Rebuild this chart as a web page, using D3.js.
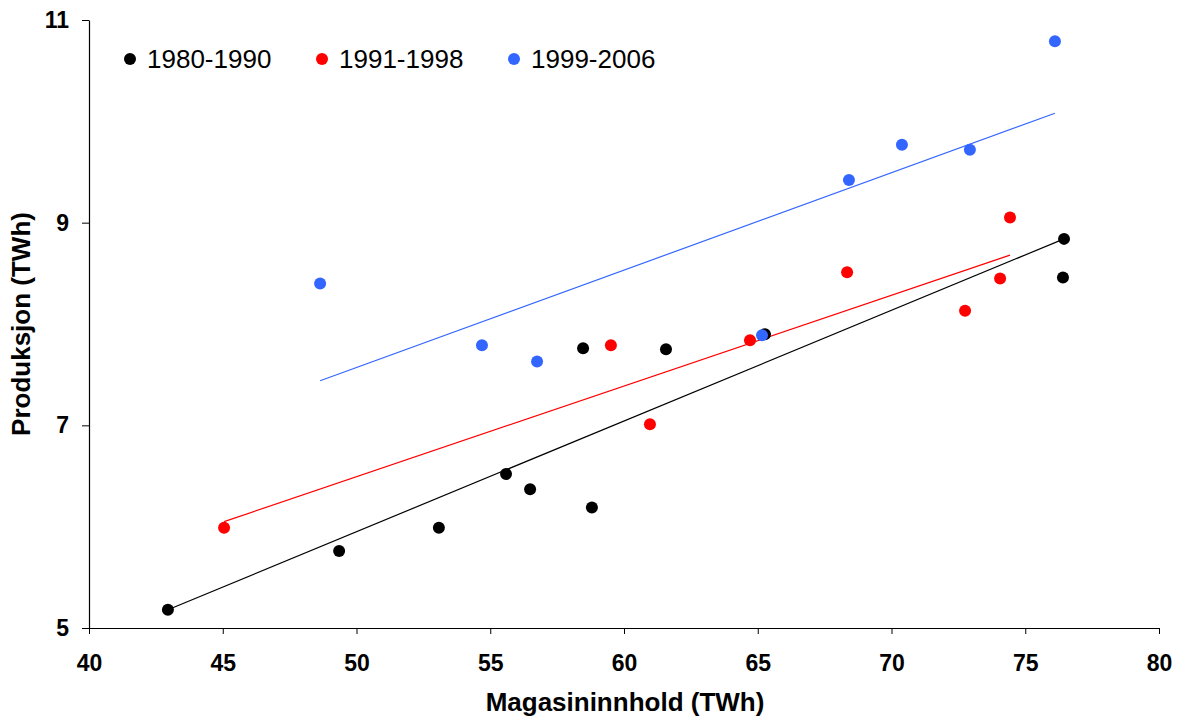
<!DOCTYPE html>
<html><head><meta charset="utf-8">
<script src="https://cdn.jsdelivr.net/npm/d3@7"></script>
<style>body{margin:0;background:#fff}svg{display:block}text{font-family:"Liberation Sans",Arial,sans-serif}</style>
</head><body>
<svg id="c" width="1180" height="718"></svg>
<script>
const seriesNames = ["1980-1990","1991-1998","1999-2006"];
const seriesColors = ["#000000","#ff0000","#3366ff"];
const x1980 = [42.95,49.35,53.08,55.59,56.49,58.80,58.47,61.57,65.27,76.45,76.41];
const y1980 = [5.18,5.76,5.99,6.52,6.37,6.19,7.76,7.75,7.90,8.84,8.46];
const x1991 = [45.05,59.51,60.97,64.71,68.34,72.75,74.06,74.43];
const y1991 = [5.99,7.79,7.01,7.84,8.51,8.13,8.45,9.05];
const x1999 = [48.64,54.69,56.75,65.16,68.41,70.39,72.93,76.11];
const y1999 = [8.40,7.79,7.63,7.89,9.42,9.77,9.72,10.79];
// trend line endpoints [x0,y0,x1,y1]
const trend1980 = [42.95,5.18,76.45,8.84];
const trend1991 = [45.05,6.05,74.43,8.68];
const trend1999 = [48.64,7.44,76.11,10.08];
const xTicks = [40,45,50,55,60,65,70,75,80];
const yTicks = [5,7,9,11];

const svg = d3.select("#c");
const x = d3.scaleLinear().domain([40,80]).range([89,1159]);
const y = d3.scaleLinear().domain([5,11]).range([628,20]);

const series = [
  {xs:x1980, ys:y1980, t:trend1980},
  {xs:x1991, ys:y1991, t:trend1991},
  {xs:x1999, ys:y1999, t:trend1999}
];

// axes
const xa = svg.append("g").attr("transform","translate(0,628)")
  .call(d3.axisBottom(x).tickValues(xTicks).tickFormat(d3.format("d")).tickSize(6).tickPadding(21).tickSizeOuter(0));
xa.select(".domain").attr("stroke","#000").attr("stroke-width",1.2);
xa.selectAll("text").attr("font-size",23).attr("font-weight","bold").attr("fill","#000");
const ya = svg.append("g").attr("transform","translate(89,0)")
  .call(d3.axisLeft(y).tickValues(yTicks).tickFormat(d3.format("d")).tickSize(7).tickPadding(13).tickSizeOuter(0));
ya.select(".domain").attr("stroke","#000").attr("stroke-width",1.2);
ya.selectAll("text").attr("font-size",23).attr("font-weight","bold").attr("fill","#000");

// trend lines
series.forEach((s,i)=>{
  svg.append("line")
    .attr("x1",x(s.t[0])).attr("y1",y(s.t[1]))
    .attr("x2",x(s.t[2])).attr("y2",y(s.t[3]))
    .attr("stroke",seriesColors[i]).attr("stroke-width",1.2);
});
// points
series.forEach((s,i)=>{
  svg.append("g").selectAll("circle").data(s.xs.map((v,j)=>[v,s.ys[j]]))
    .join("circle").attr("cx",d=>x(d[0])).attr("cy",d=>y(d[1])).attr("r",6)
    .attr("fill",seriesColors[i]);
});

// legend
const legX = [130,322,514];
seriesNames.forEach((n,i)=>{
  svg.append("circle").attr("cx",legX[i]).attr("cy",59).attr("r",6).attr("fill",seriesColors[i]);
  svg.append("text").attr("x",legX[i]+17).attr("y",68).attr("font-size",26).attr("fill","#000").text(n);
});

// axis titles
svg.append("text").attr("x",x(60)+1).attr("y",711).attr("text-anchor","middle")
  .attr("font-size",26).attr("font-weight","bold").text("Magasininnhold (TWh)");
svg.append("text").attr("transform","translate(30,"+y(8)+") rotate(-90)").attr("text-anchor","middle")
  .attr("font-size",26).attr("font-weight","bold").text("Produksjon (TWh)");
</script>
</body></html>
